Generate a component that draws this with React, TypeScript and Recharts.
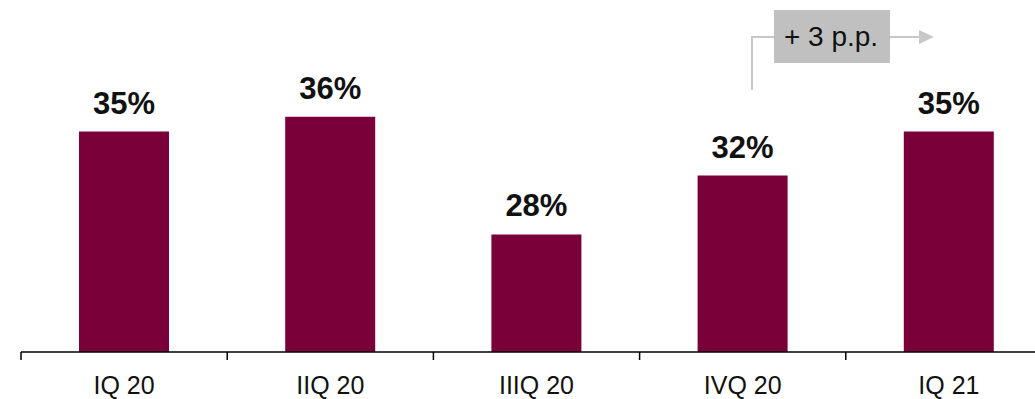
import { Bar, BarChart, LabelList, XAxis, YAxis } from "recharts";

const quarters = ["IQ 20", "IIQ 20", "IIIQ 20", "IVQ 20", "IQ 21"];
const shares = [35, 36, 28, 32, 35];
const deltaLabel = "+ 3 p.p.";

const data = quarters.map((q, i) => ({ quarter: q, value: shares[i] }));

const font = "Arial, 'Liberation Sans', sans-serif";

function QuarterTick(props: any) {
  const { x, y, payload } = props;
  const half = payload?.offset ?? 103;
  return (
    <g>
      <line x1={x - half} x2={x - half} y1={y} y2={y + 8} stroke="#000" strokeWidth={1.5} />
      <text x={x} y={y + 42} textAnchor="middle" fontSize={25} fontFamily={font} fill="#111">
        {payload.value}
      </text>
    </g>
  );
}

function DeltaNote() {
  return (
    <svg width={1035} height={399} style={{ position: "absolute", left: 0, top: 0, pointerEvents: "none" }}>
      <polyline points="752,90 752,37 774,37" fill="none" stroke="#c8c8c8" strokeWidth={2} />
      <rect x={774} y={10} width={116} height={53} fill="#c0c0c0" />
      <text x={831} y={46} textAnchor="middle" fontSize={28} fontFamily={font} fill="#111">
        {deltaLabel}
      </text>
      <line x1={890} x2={921} y1={37} y2={37} stroke="#c8c8c8" strokeWidth={2} />
      <polygon points="919,30 934,37 919,44" fill="#c8c8c8" />
    </svg>
  );
}

export default function App() {
  return (
    <div style={{ position: "absolute", left: 0, top: 0, width: 1035, height: 399, overflow: "hidden", background: "#fff" }}>
      <BarChart width={1052} height={399} data={data} margin={{ top: 58, right: 0, bottom: 0, left: 21 }}>
        <XAxis
          dataKey="quarter"
          height={47}
          tickLine={false}
          tickSize={0}
          tickMargin={0}
          axisLine={{ stroke: "#000", strokeWidth: 1.5 }}
          tick={<QuarterTick />}
          interval={0}
        />
        <YAxis hide domain={[20, 40]} />
        <Bar dataKey="value" fill="#7a0039" barSize={90} isAnimationActive={false}>
          <LabelList
            dataKey="value"
            position="top"
            offset={18}
            formatter={(v: any) => `${v}%`}
            style={{ fontSize: 31, fontWeight: 700, fontFamily: font, fill: "#111" }}
          />
        </Bar>
      </BarChart>
      <DeltaNote />
    </div>
  );
}
